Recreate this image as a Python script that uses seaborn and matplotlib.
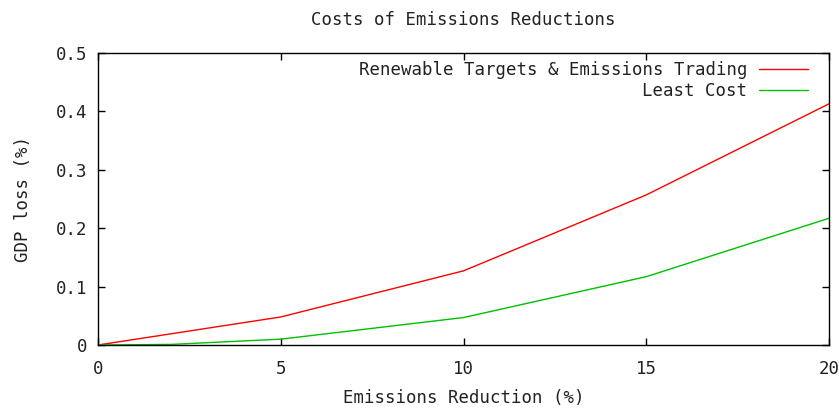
import matplotlib
matplotlib.use("Agg")
import matplotlib.pyplot as plt
import seaborn as sns
import pandas as pd

sns.set_theme(style="white")
plt.rcParams['font.family'] = ['DejaVu Sans Mono', 'DejaVu Sans']

reduction = [0, 5, 10, 15, 20]
renewable = [0.0, 0.048, 0.127, 0.257, 0.413]
least_x = [0, 2, 5, 10, 15, 20]
least_cost = [0.0, 0.001, 0.010, 0.047, 0.117, 0.217]

df1 = pd.DataFrame({"x": reduction, "y": renewable})
df2 = pd.DataFrame({"x": least_x, "y": least_cost})

fig = plt.figure(figsize=(8.39, 4.08), dpi=100)
ax = fig.add_axes([98/839, 1-345/408, (829-98)/839, (345-53)/408])

sns.lineplot(data=df1, x="x", y="y", ax=ax, color="#ff0000", lw=1,
             label="Renewable Targets & Emissions Trading")
sns.lineplot(data=df2, x="x", y="y", ax=ax, color="#00c000", lw=1,
             label="Least Cost")

ax.set_xlim(0, 20)
ax.set_ylim(0, 0.5)
ax.set_xticks([0, 5, 10, 15, 20])
ax.set_yticks([0, 0.1, 0.2, 0.3, 0.4, 0.5])
ax.set_yticklabels(["0", "0.1", "0.2", "0.3", "0.4", "0.5"])
ax.tick_params(direction="in", length=5, width=1, top=True, right=True,
               bottom=True, left=True, labelsize=12.5, labelcolor="#222222",
               color="black")
ax.tick_params(axis="x", pad=11)
ax.tick_params(axis="y", pad=8)
for s in ax.spines.values():
    s.set_color("black")
    s.set_linewidth(1)

ax.set_xlabel("Emissions Reduction (%)", fontsize=12.5, labelpad=8, color="#222222")
ax.set_ylabel("GDP loss (%)", fontsize=12.5, labelpad=17, color="#222222")
ax.set_title("Costs of Emissions Reductions", fontsize=12.5, pad=20, color="#222222")

leg = ax.legend(loc="upper right", bbox_to_anchor=((808-98)/731, (345-61)/292),
                frameon=False, markerfirst=False,
                fontsize=12.5, handlelength=2.8, handletextpad=0.7,
                labelspacing=0.15, borderaxespad=0.0, borderpad=0.0)
for t in leg.get_texts():
    t.set_color("#222222")

fig.savefig("out.png", dpi=100)
